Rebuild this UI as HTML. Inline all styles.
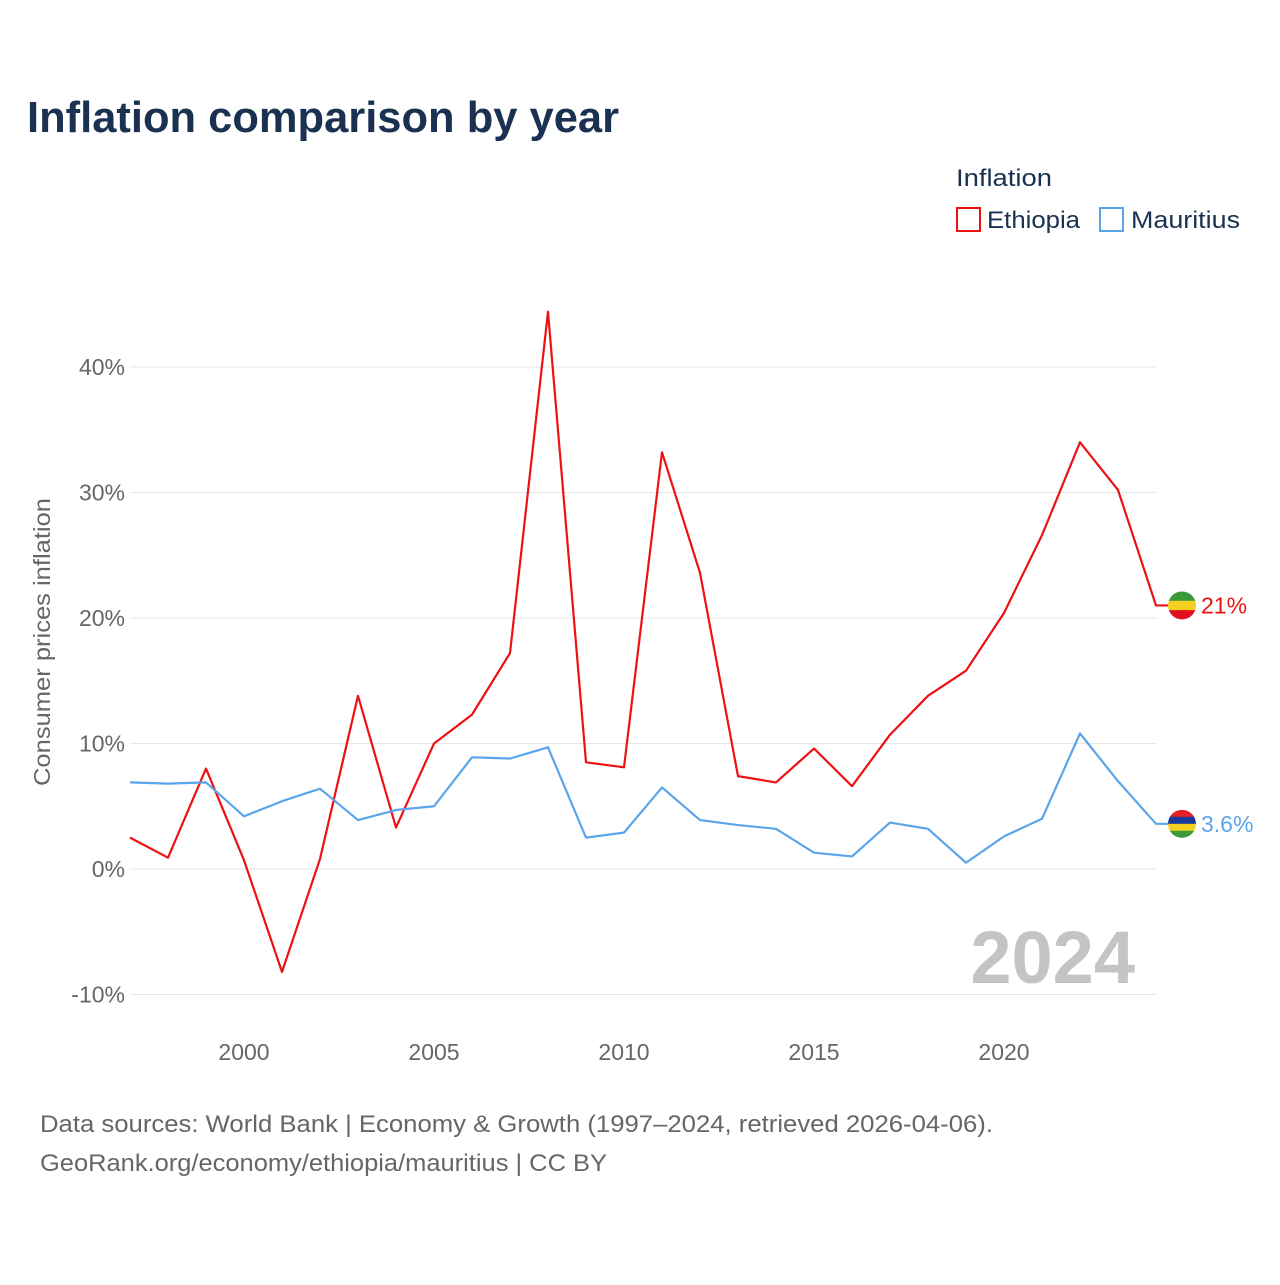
<!DOCTYPE html>
<html><head><meta charset="utf-8"><style>
body{margin:0;background:#fff;font-family:"Liberation Sans",sans-serif;}
svg text{font-family:"Liberation Sans",sans-serif;}
</style></head><body>
<svg id="chart" width="1280" height="1280" viewBox="0 0 1280 1280" xmlns="http://www.w3.org/2000/svg">
<rect width="1280" height="1280" fill="#fff"/>
<text x="27" y="132" font-size="44" font-weight="bold" fill="#1a3152" textLength="592" lengthAdjust="spacingAndGlyphs">Inflation comparison by year</text>
<text x="956" y="186" font-size="24" fill="#1a3152" textLength="96" lengthAdjust="spacingAndGlyphs">Inflation</text>
<g>
<rect x="957" y="208" width="23" height="23" fill="none" stroke="#ee1111" stroke-width="2"/>
<text x="987" y="228" font-size="24" fill="#1a3152" textLength="93" lengthAdjust="spacingAndGlyphs">Ethiopia</text></g>
<g>
<rect x="1100" y="208" width="23" height="23" fill="none" stroke="#5aa5ea" stroke-width="2"/>
<text x="1131" y="228" font-size="24" fill="#1a3152" textLength="109" lengthAdjust="spacingAndGlyphs">Mauritius</text></g>
<text transform="translate(50,642) rotate(-90)" text-anchor="middle" font-size="23" fill="#666" textLength="288" lengthAdjust="spacingAndGlyphs">Consumer prices inflation</text>
<g id="grid"></g><g id="yticks"></g><g id="xticks"></g>
<text x="1135" y="983" text-anchor="end" font-size="74" font-weight="bold" fill="#c4c4c4">2024</text>
<g id="series"></g>
<text x="40" y="1132" font-size="24" fill="#666" textLength="953" lengthAdjust="spacingAndGlyphs">Data sources: World Bank | Economy &amp; Growth (1997–2024, retrieved 2026-04-06).</text>
<text x="40" y="1171" font-size="24" fill="#666" textLength="567" lengthAdjust="spacingAndGlyphs">GeoRank.org/economy/ethiopia/mauritius | CC BY</text>
</svg>
<script>
const years=[1997,1998,1999,2000,2001,2002,2003,2004,2005,2006,2007,2008,2009,2010,2011,2012,2013,2014,2015,2016,2017,2018,2019,2020,2021,2022,2023,2024];
const ethiopia=[2.5,0.9,8.0,0.7,-8.2,0.8,13.8,3.3,10.0,12.3,17.2,44.4,8.5,8.1,33.2,23.6,7.4,6.9,9.6,6.6,10.7,13.8,15.8,20.4,26.6,34.0,30.2,21.0];
const mauritius=[6.9,6.8,6.9,4.2,5.4,6.4,3.9,4.7,5.0,8.9,8.8,9.7,2.5,2.9,6.5,3.9,3.5,3.2,1.3,1.0,3.7,3.2,0.5,2.6,4.0,10.8,7.0,3.6];
const yTicks=[-10,0,10,20,30,40];
const xTicks=[2000,2005,2010,2015,2020];
const NS="http://www.w3.org/2000/svg";
const X=v=>130+(v-1997)*(1156-130)/27;
const Y=v=>869-v*12.55;
function mk(t,a,p){const e=document.createElementNS(NS,t);for(const k in a)e.setAttribute(k,a[k]);p.appendChild(e);return e;}
const grid=document.getElementById('grid'),yt=document.getElementById('yticks'),xt=document.getElementById('xticks'),ser=document.getElementById('series');
yTicks.forEach(v=>{
 const l=mk('line',{x1:130,x2:1156,y1:Y(v),y2:Y(v),stroke:'#e6e6e6','stroke-width':1},grid);
 
 
 const t=mk('text',{x:125,y:Y(v)+8,'text-anchor':'end','font-size':23,fill:'#666'},yt);
 t.textContent=v+'%';
 
 
});
xTicks.forEach(v=>{
 const t=mk('text',{x:X(v),y:1060,'text-anchor':'middle','font-size':23,fill:'#666'},xt);
 t.textContent=v;
 
 
});
function series(vals,color,name,label,flag){
 const pts=vals.map((v,i)=>X(years[i])+','+Y(v)).join(' ')+' '+(X(2024)+12)+','+Y(vals[vals.length-1]);
 const p=mk('polyline',{points:pts,fill:'none',stroke:color,'stroke-width':2.2,'stroke-linejoin':'round'},ser);
 
 
 const cy=Y(vals[vals.length-1]);
 const g=mk('g',{},ser);
 
 
 const cp=mk('clipPath',{id:'c'+name},g);mk('circle',{cx:1182,cy:cy,r:14},cp);
 const h=28/flag.length;
 flag.forEach((c,i)=>mk('rect',{x:1168,y:cy-14+i*h,width:28,height:h+0.5,fill:c,'clip-path':'url(#c'+name+')'},g));
 const t=mk('text',{x:1201,y:cy+8,'font-size':23,fill:color},ser);
 t.textContent=label;
 
 
}
series(ethiopia,'#ee1111','ethiopia','21%',['#3a9a3a','#f5d020','#e01020']);
series(mauritius,'#5aa5ea','mauritius','3.6%',['#e0202a','#1a3a9a','#f5d020','#3a9a3a']);
</script>
</body></html>
